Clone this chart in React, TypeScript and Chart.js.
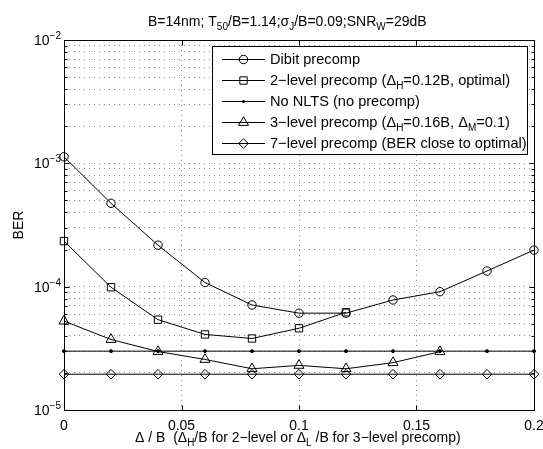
import React, { useEffect, useRef } from 'react';
import { Chart, registerables } from 'chart.js';

Chart.register(...registerables);

// ---------- data ----------
const xValues = [0, 0.02, 0.04, 0.06, 0.08, 0.1, 0.12, 0.14, 0.16, 0.18, 0.2];
const dibitBER = [1.13e-3, 4.74e-4, 2.17e-4, 1.08e-4, 7.1e-5, 6.1e-5, 6.1e-5, 7.8e-5, 9.1e-5, 1.34e-4, 1.98e-4];
const twoLevelX = [0, 0.02, 0.04, 0.06, 0.08, 0.1, 0.12];
const twoLevelBER = [2.34e-4, 9.9e-5, 5.4e-5, 4.1e-5, 3.8e-5, 4.6e-5, 6.2e-5];
const noNltsBER = [3.0e-5, 3.0e-5, 3.0e-5, 3.0e-5, 3.0e-5, 3.0e-5, 3.0e-5, 3.0e-5, 3.0e-5, 3.0e-5, 3.0e-5];
const threeLevelX = [0, 0.02, 0.04, 0.06, 0.08, 0.1, 0.12, 0.14, 0.16];
const threeLevelBER = [5.26e-5, 3.73e-5, 2.98e-5, 2.57e-5, 2.16e-5, 2.3e-5, 2.16e-5, 2.42e-5, 2.97e-5];
const sevenLevelBER = [1.95e-5, 1.95e-5, 1.95e-5, 1.95e-5, 1.95e-5, 1.95e-5, 1.95e-5, 1.95e-5, 1.95e-5, 1.95e-5, 1.95e-5];

const xTickValues = [0, 0.05, 0.1, 0.15, 0.2];
const xTickLabels = ['0', '0.05', '0.1', '0.15', '0.2'];
const yDecadeExps = [-5, -4, -3, -2];
const yMinorMultipliers = [2, 3, 4, 5, 6, 7, 8, 9];

type Seg = { t: string; s?: 'sub' | 'sup' };

const titleSegs: Seg[] = [
  { t: 'B=14nm; T' }, { t: '50', s: 'sub' }, { t: '/B=1.14;σ' }, { t: 'J', s: 'sub' },
  { t: '/B=0.09;SNR' }, { t: 'W', s: 'sub' }, { t: '=29dB' },
];
const xLabelSegs: Seg[] = [
  { t: 'Δ / B  (Δ' }, { t: 'H', s: 'sub' }, { t: '/B for 2−level or Δ' }, { t: 'L', s: 'sub' },
  { t: ' /B for 3−level precomp)' },
];
const yLabel = 'BER';

const legendLabels: Seg[][] = [
  [{ t: 'Dibit precomp' }],
  [{ t: '2−level precomp (Δ' }, { t: 'H', s: 'sub' }, { t: '=0.12B, optimal)' }],
  [{ t: 'No NLTS (no precomp)' }],
  [{ t: '3−level precomp (Δ' }, { t: 'H', s: 'sub' }, { t: '=0.16B, Δ' }, { t: 'M', s: 'sub' }, { t: '=0.1)' }],
  [{ t: '7−level precomp (BER close to optimal)' }],
];

// ---------- styling ----------
const FONT = '"Liberation Sans", Arial, Helvetica, sans-serif';
const SMALL = 10;

const markerStyles = ['circle', 'rect', 'dot', 'triangle', 'rectRot'];
const markerRadii = [4.2, 5.2, 1.5, 5.8, 4.8];

function pts(xs: number[], ys: number[]) {
  return xs.map((x, i) => ({ x, y: ys[i] }));
}

function segFont(s: Seg, size: number) {
  return `${s.s ? SMALL : size}px ${FONT}`;
}

function richWidth(ctx: CanvasRenderingContext2D, segs: Seg[], size: number) {
  let w = 0;
  for (const s of segs) {
    ctx.font = segFont(s, size);
    w += ctx.measureText(s.t).width;
  }
  return w;
}

function drawRich(ctx: CanvasRenderingContext2D, segs: Seg[], x: number, y: number, align: 'left' | 'center' | 'right', size = 14) {
  const w = richWidth(ctx, segs, size);
  let cx = align === 'left' ? x : align === 'center' ? x - w / 2 : x - w;
  ctx.textAlign = 'left';
  ctx.textBaseline = 'alphabetic';
  for (const s of segs) {
    ctx.font = segFont(s, size);
    const dy = s.s === 'sub' ? 4 : s.s === 'sup' ? -6 : 0;
    ctx.fillText(s.t, cx, y + dy);
    cx += ctx.measureText(s.t).width;
  }
}

function drawMarker(ctx: CanvasRenderingContext2D, style: string, x: number, y: number, r: number) {
  ctx.beginPath();
  if (style === 'circle') {
    ctx.arc(x, y, r, 0, Math.PI * 2);
    ctx.stroke();
  } else if (style === 'rect') {
    const h = r * Math.SQRT1_2;
    ctx.rect(x - h, y - h, 2 * h, 2 * h);
    ctx.stroke();
  } else if (style === 'triangle') {
    let rad = 0;
    ctx.moveTo(x + Math.sin(rad) * r, y - Math.cos(rad) * r);
    rad += (2 * Math.PI) / 3;
    ctx.lineTo(x + Math.sin(rad) * r, y - Math.cos(rad) * r);
    rad += (2 * Math.PI) / 3;
    ctx.lineTo(x + Math.sin(rad) * r, y - Math.cos(rad) * r);
    ctx.closePath();
    ctx.stroke();
  } else if (style === 'rectRot') {
    ctx.moveTo(x - r, y);
    ctx.lineTo(x, y - r);
    ctx.lineTo(x + r, y);
    ctx.lineTo(x, y + r);
    ctx.closePath();
    ctx.stroke();
  } else {
    ctx.arc(x, y, r, 0, Math.PI * 2);
    ctx.fill();
  }
}

const decorPlugin = {
  id: 'decor',
  afterDraw(chart: any) {
    const ctx: CanvasRenderingContext2D = chart.ctx;
    const { left, right, top, bottom } = chart.chartArea;
    const xs = chart.scales.x;
    const ys = chart.scales.y;
    ctx.save();
    ctx.strokeStyle = '#000';
    ctx.fillStyle = '#000';
    ctx.lineWidth = 1;
    ctx.setLineDash([]);

    const L = Math.round(left) + 0.5;
    const R = Math.round(right) + 0.5;
    const T = Math.round(top) + 0.5;
    const B = Math.round(bottom) + 0.5;

    // axes box
    ctx.strokeRect(L, T, R - L, B - T);

    // tick marks
    ctx.beginPath();
    for (const v of xTickValues) {
      const px = Math.round(xs.getPixelForValue(v)) + 0.5;
      ctx.moveTo(px, B); ctx.lineTo(px, B - 5);
      ctx.moveTo(px, T); ctx.lineTo(px, T + 5);
    }
    for (const e of yDecadeExps) {
      const py = Math.round(ys.getPixelForValue(Math.pow(10, e))) + 0.5;
      ctx.moveTo(L, py); ctx.lineTo(L + 5, py);
      ctx.moveTo(R, py); ctx.lineTo(R - 5, py);
      if (e < -2) {
        for (const m of yMinorMultipliers) {
          const pm = Math.round(ys.getPixelForValue(m * Math.pow(10, e))) + 0.5;
          ctx.moveTo(L, pm); ctx.lineTo(L + 3, pm);
          ctx.moveTo(R, pm); ctx.lineTo(R - 3, pm);
        }
      }
    }
    ctx.stroke();

    // x tick labels
    ctx.font = `14px ${FONT}`;
    ctx.textAlign = 'center';
    ctx.textBaseline = 'alphabetic';
    xTickValues.forEach((v, i) => {
      ctx.fillText(xTickLabels[i], xs.getPixelForValue(v), 430);
    });

    // y tick labels (10^e)
    for (const e of yDecadeExps) {
      const py = ys.getPixelForValue(Math.pow(10, e));
      const segs: Seg[] = [{ t: '10' }, { t: '−' + Math.abs(e), s: 'sup' }];
      drawRich(ctx, segs, left - 3, py + 5, 'right');
    }

    // title
    drawRich(ctx, titleSegs, 148, 26, 'left');

    // x label
    drawRich(ctx, xLabelSegs, 135, 442, 'left');

    // y label
    ctx.save();
    ctx.translate(22.5, (top + bottom) / 2);
    ctx.rotate(-Math.PI / 2);
    ctx.font = `14px ${FONT}`;
    ctx.textAlign = 'center';
    ctx.textBaseline = 'alphabetic';
    ctx.fillText(yLabel, 0, 0);
    ctx.restore();

    // legend
    const lx = 212.5, ly = 46.5, lw = 315, lh = 108;
    ctx.fillStyle = '#fff';
    ctx.fillRect(lx, ly, lw, lh);
    ctx.strokeStyle = '#000';
    ctx.strokeRect(lx, ly, lw, lh);
    ctx.fillStyle = '#000';
    legendLabels.forEach((segs, i) => {
      const ry = 59 + i * 21;
      ctx.beginPath();
      ctx.moveTo(222, ry + 0.5);
      ctx.lineTo(265, ry + 0.5);
      ctx.stroke();
      drawMarker(ctx, markerStyles[i], 243.5, ry + 0.5, markerRadii[i]);
      drawRich(ctx, segs, 270, ry + 5, 'left', 14.6);
    });

    ctx.restore();
  },
};

export default function App() {
  const canvasRef = useRef<HTMLCanvasElement | null>(null);

  useEffect(() => {
    document.body.style.margin = '0';
    const canvas = canvasRef.current;
    if (!canvas) return;

    const yGridValues: number[] = [];
    for (const e of yDecadeExps) {
      yGridValues.push(Math.pow(10, e));
      if (e < -2) for (const m of yMinorMultipliers) yGridValues.push(m * Math.pow(10, e));
    }

    const common = {
      borderColor: '#000',
      borderWidth: 1,
      pointBorderColor: '#000',
      pointBackgroundColor: 'rgba(0,0,0,0)',
      pointBorderWidth: 1,
      tension: 0,
      clip: false as const,
      fill: false,
    };

    const chart = new Chart(canvas, {
      type: 'line',
      data: {
        datasets: [
          { ...common, label: 'Dibit precomp', data: pts(xValues, dibitBER), pointStyle: 'circle', pointRadius: markerRadii[0] },
          { ...common, label: '2-level precomp', data: pts(twoLevelX, twoLevelBER), pointStyle: 'rect', pointRadius: markerRadii[1] },
          { ...common, label: 'No NLTS', data: pts(xValues, noNltsBER), pointStyle: 'circle', pointRadius: markerRadii[2], pointBackgroundColor: '#000' },
          { ...common, label: '3-level precomp', data: pts(threeLevelX, threeLevelBER), pointStyle: 'triangle', pointRadius: markerRadii[3] },
          { ...common, label: '7-level precomp', data: pts(xValues, sevenLevelBER), pointStyle: 'rectRot', pointRadius: markerRadii[4] },
        ],
      },
      options: {
        animation: false,
        responsive: false,
        devicePixelRatio: 1,
        layout: { padding: { left: 64, top: 40, right: 9, bottom: 39 } },
        plugins: { legend: { display: false }, tooltip: { enabled: false }, title: { display: false } },
        elements: { line: { borderWidth: 1 } },
        scales: {
          x: {
            type: 'linear',
            min: 0,
            max: 0.2,
            ticks: { display: false },
            grid: { color: '#8a8a8a', lineWidth: 1, drawTicks: false },
            border: { display: false, dash: [1, 4] },
            afterBuildTicks: (s: any) => { s.ticks = xTickValues.map((v) => ({ value: v })); },
            afterFit: (s: any) => { s.height = 0; },
          },
          y: {
            type: 'logarithmic',
            min: 1e-5,
            max: 1e-2,
            ticks: { display: false },
            grid: { color: '#8a8a8a', lineWidth: 1, drawTicks: false },
            border: { display: false, dash: [1, 4] },
            afterBuildTicks: (s: any) => { s.ticks = yGridValues.map((v) => ({ value: v })); },
            afterFit: (s: any) => { s.width = 0; },
          },
        },
      } as any,
      plugins: [decorPlugin],
    });

    return () => chart.destroy();
  }, []);

  return (
    <div style={{ position: 'absolute', left: 0, top: 0, width: 543, height: 449, background: '#fff' }}>
      <canvas ref={canvasRef} width={543} height={449} style={{ display: 'block', width: 543, height: 449 }} />
    </div>
  );
}
